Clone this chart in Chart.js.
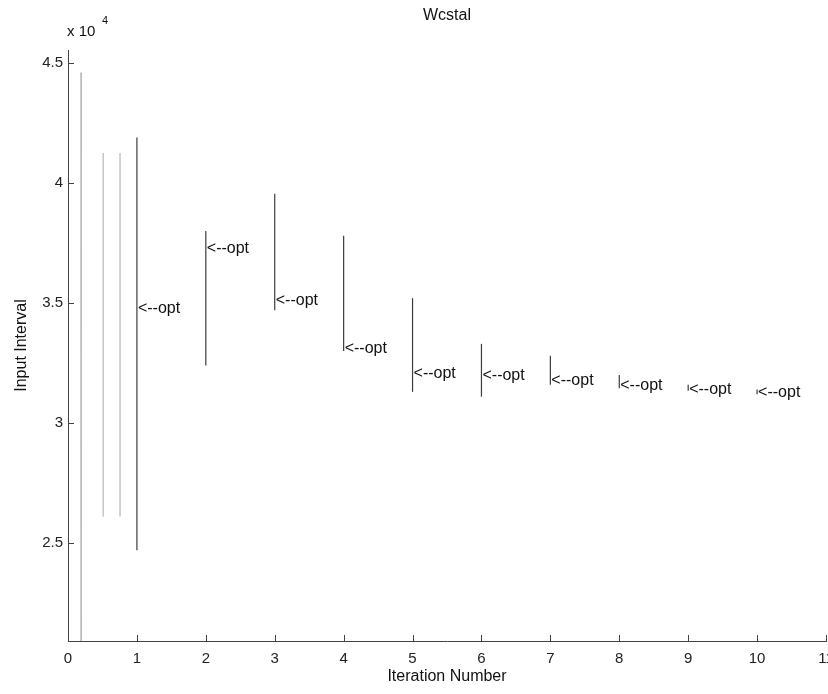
<!DOCTYPE html>
<html>
<head>
<meta charset="utf-8">
<script src="https://cdn.jsdelivr.net/npm/chart.js@4"></script>
<style>
  html, body { margin: 0; padding: 0; background: #fff; }
</style>
</head>
<body>
<canvas id="interval-chart" width="828" height="694"></canvas>
<script>
// interval per iteration, and where the optimum sits in it
const iterations = [1, 2, 3, 4, 5, 6, 7, 8, 9, 10];
const lowerBound = [2.47, 3.24, 3.47, 3.30, 3.13, 3.11, 3.16, 3.145, 3.135, 3.12];
const upperBound = [4.19, 3.80, 3.955, 3.78, 3.52, 3.33, 3.28, 3.20, 3.16, 3.14];
const optimum = [3.475, 3.725, 3.51, 3.31, 3.204, 3.196, 3.175, 3.155, 3.14, 3.125];

// first trial intervals (lighter lines before iteration 1)
const trialX = [0.19, 0.51, 0.755];
const trialLower = [2.0, 2.61, 2.61];
const trialUpper = [4.46, 4.125, 4.125];

const xTicks = [0, 1, 2, 3, 4, 5, 6, 7, 8, 9, 10, 11];
const yTicks = [2.5, 3, 3.5, 4, 4.5];

const FONT = "'Liberation Sans', Arial, Helvetica, sans-serif";

const datasets = [];
trialX.forEach((x, i) => {
  datasets.push({
    data: [{ x: x, y: trialLower[i] }, { x: x, y: trialUpper[i] }],
    borderColor: i === 0 ? '#8a8a8a' : '#a8a8a8',
    borderWidth: 1,
    pointRadius: 0,
    showLine: true
  });
});
iterations.forEach((it, i) => {
  datasets.push({
    data: [{ x: it, y: lowerBound[i] }, { x: it, y: upperBound[i] }],
    borderColor: '#3c3c3c',
    borderWidth: 1.2,
    pointRadius: 0,
    showLine: true
  });
});

const textPlugin = {
  id: 'matlabText',
  afterDraw(chart) {
    const c = chart.ctx;
    const xs = chart.scales.x, ys = chart.scales.y;
    const area = chart.chartArea;
    c.save();

    // inward tick marks
    c.strokeStyle = '#444';
    c.lineWidth = 1;
    c.beginPath();
    xTicks.forEach(t => {
      const px = Math.round(xs.getPixelForValue(t)) + 0.5;
      c.moveTo(px, area.bottom);
      c.lineTo(px, area.bottom - 6);
    });
    yTicks.forEach(t => {
      const py = Math.round(ys.getPixelForValue(t)) + 0.5;
      c.moveTo(area.left, py);
      c.lineTo(area.left + 6, py);
    });
    c.stroke();

    c.fillStyle = '#111';
    c.font = '16px ' + FONT;

    // <--opt labels
    c.textAlign = 'left';
    c.textBaseline = 'middle';
    iterations.forEach((it, i) => {
      c.fillText('<--opt', xs.getPixelForValue(it) + 1, ys.getPixelForValue(optimum[i]));
    });

    const cx = (area.left + area.right) / 2;
    const cy = (area.top + area.bottom) / 2;

    c.textAlign = 'center';
    c.fillText('Wcstal', cx, 16);
    c.fillText('Iteration Number', cx, 677);

    c.save();
    c.translate(22, cy);
    c.rotate(-Math.PI / 2);
    c.fillText('Input Interval', 0, 0);
    c.restore();

    // exponent label
    c.textAlign = 'left';
    c.font = '15px ' + FONT;
    c.fillText('x 10', 67, 32);
    c.font = '11px ' + FONT;
    c.fillText('4', 102, 21);

    c.restore();
  }
};

const ctx = document.querySelector('#interval-chart').getContext('2d');
const chart = new Chart(ctx, {
  type: 'scatter',
  data: { datasets: datasets },
  options: {
    responsive: false,
    animation: false,
    layout: { padding: { top: 50, right: 2, left: 0, bottom: 0 } },
    plugins: {
      legend: { display: false },
      tooltip: { enabled: false }
    },
    scales: {
      x: {
        type: 'linear',
        min: 0,
        max: 11,
        afterBuildTicks: s => { s.ticks = xTicks.map(v => ({ value: v })); },
        afterFit: s => { s.height = 53; s.paddingLeft = 0; s.paddingRight = 0; },
        grid: { display: false, drawTicks: false },
        border: { display: true, color: '#444', width: 1 },
        ticks: {
          padding: 9,
          color: '#222',
          maxRotation: 0,
          autoSkip: false,
          font: { family: FONT, size: 15 },
          callback: v => String(v)
        }
      },
      y: {
        type: 'linear',
        min: 2.092,
        max: 4.554,
        afterBuildTicks: s => { s.ticks = yTicks.map(v => ({ value: v })); },
        afterFit: s => { s.width = 68; s.paddingTop = 0; s.paddingBottom = 0; },
        grid: { display: false, drawTicks: false },
        border: { display: true, color: '#444', width: 1 },
        ticks: {
          padding: 5,
          color: '#222',
          autoSkip: false,
          font: { family: FONT, size: 15 },
          callback: v => String(v)
        }
      }
    }
  },
  plugins: [textPlugin]
});
</script>
</body>
</html>
